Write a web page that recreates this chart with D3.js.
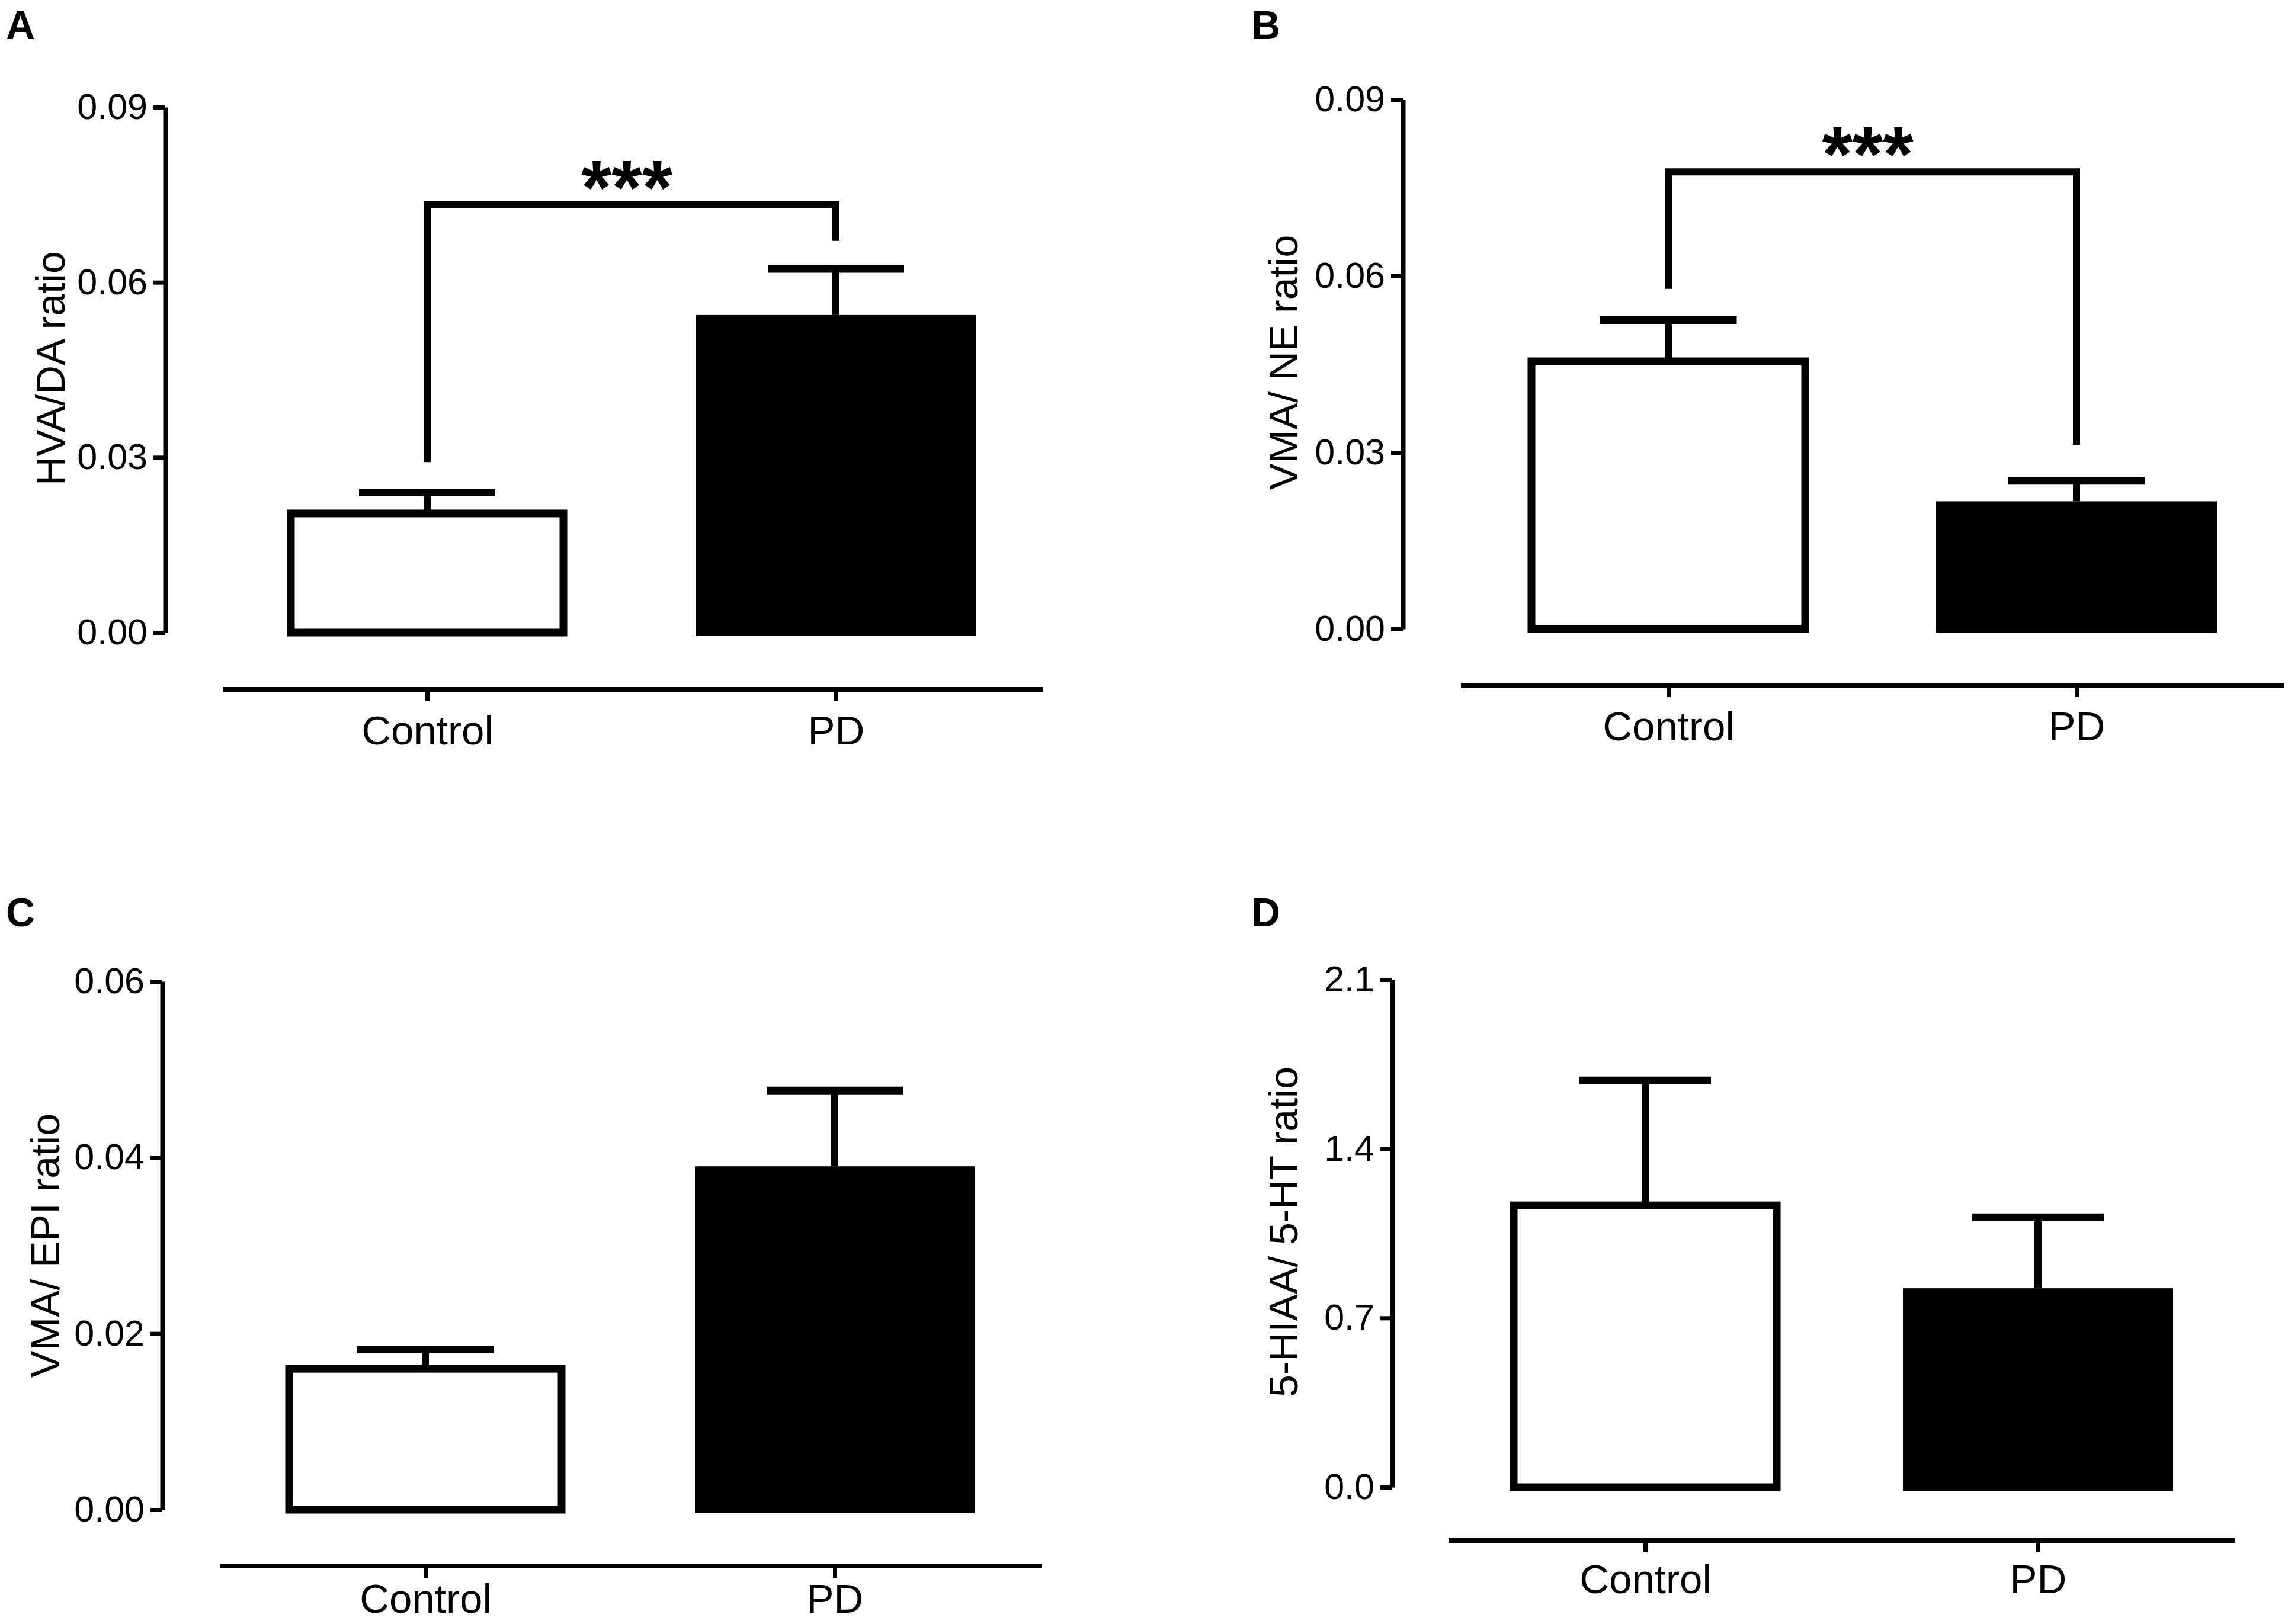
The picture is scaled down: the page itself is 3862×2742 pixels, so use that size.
<!DOCTYPE html>
<html>
<head>
<meta charset="utf-8">
<script src="https://cdn.jsdelivr.net/npm/d3@7"></script>
<style>
  body { margin: 0; background: #fff; }
  text { font-family: "Liberation Sans", Arial, Helvetica, sans-serif; fill: #000; }
</style>
</head>
<body>
<div id="figure"></div>
<script>
// Data (mean and SEM per group)
const groups = ["Control", "PD"];

const hvaDaMean = [0.0204, 0.0544];
const hvaDaSem  = [0.0036, 0.0079];
const hvaDaTicks = [0, 0.03, 0.06, 0.09];
const hvaDaSig = { label: "***", top: 0.0733, left: 0.0292, right: 0.0671 };

const vmaNeMean = [0.0455, 0.0217];
const vmaNeSem  = [0.0070, 0.0035];
const vmaNeTicks = [0, 0.03, 0.06, 0.09];
const vmaNeSig = { label: "***", top: 0.0777, left: 0.0578, right: 0.0313 };

const vmaEpiMean = [0.0160, 0.0390];
const vmaEpiSem  = [0.0022, 0.0086];
const vmaEpiTicks = [0, 0.02, 0.04, 0.06];

const hiaaHtMean = [1.166, 0.823];
const hiaaHtSem  = [0.517, 0.294];
const hiaaHtTicks = [0, 0.7, 1.4, 2.1];

const W = 3862, H = 2742;

const svg = d3.select("#figure")
  .append("svg")
  .attr("width", W)
  .attr("height", H);

// one panel = y axis, separate x axis line, two bars with SEM, optional bracket
function drawPanel(p) {
  const g = svg.append("g");

  const y = d3.scaleLinear()
    .domain([0, p.ticks[p.ticks.length - 1]])
    .range([p.yBottom, p.yTop]);

  const x = d3.scalePoint()
    .domain(groups)
    .range(p.centers);

  // y axis
  g.append("g")
    .attr("transform", `translate(${p.yAxisX},0)`)
    .call(d3.axisLeft(y).tickValues(p.ticks).tickFormat(d3.format(p.fmt))
      .tickSize(20).tickSizeOuter(0).tickPadding(10))
    .call(a => a.select(".domain").attr("stroke-width", 8))
    .call(a => a.selectAll(".tick line").attr("stroke-width", 7))
    .call(a => a.selectAll("text").style("font-size", "61px")
      .style("font-family", "'Liberation Sans', Arial, sans-serif"));

  // x axis: free-floating line below the plot
  g.append("line")
    .attr("x1", p.xLine[0]).attr("x2", p.xLine[1])
    .attr("y1", p.xAxisY).attr("y2", p.xAxisY)
    .attr("stroke", "#000").attr("stroke-width", 8);

  g.append("g")
    .attr("transform", `translate(0,${p.xAxisY})`)
    .call(d3.axisBottom(x).tickSize(20).tickPadding(p.labelGap))
    .call(a => a.select(".domain").remove())
    .call(a => a.selectAll(".tick line").attr("stroke-width", 7))
    .call(a => a.selectAll("text").style("font-size", "69px")
      .style("font-family", "'Liberation Sans', Arial, sans-serif"));

  const bars = groups.map((k, i) => ({ group: k, mean: p.mean[i], sem: p.sem[i], filled: i === 1 }));
  const bw = p.barWidth;

  // error bars (upper only)
  bars.forEach(d => {
    const cx = x(d.group);
    g.append("line")
      .attr("x1", cx).attr("x2", cx)
      .attr("y1", y(d.mean)).attr("y2", y(d.mean + d.sem))
      .attr("stroke", "#000").attr("stroke-width", 12);
    g.append("line")
      .attr("x1", cx - bw / 4).attr("x2", cx + bw / 4)
      .attr("y1", y(d.mean + d.sem)).attr("y2", y(d.mean + d.sem))
      .attr("stroke", "#000").attr("stroke-width", 13);
  });

  // bars
  g.selectAll(".bar")
    .data(bars)
    .join("rect")
    .attr("class", "bar")
    .attr("x", d => x(d.group) - (d.filled ? bw / 2 + 6 : bw / 2))
    .attr("y", d => y(d.mean))
    .attr("width", d => d.filled ? bw + 12 : bw)
    .attr("height", d => y(0) - y(d.mean) + (d.filled ? 6 : 0))
    .attr("fill", d => d.filled ? "#000" : "#fff")
    .attr("stroke", d => d.filled ? "none" : "#000")
    .attr("stroke-width", 13);

  // significance bracket
  if (p.sig) {
    const xl = x(groups[0]), xr = x(groups[1]);
    g.append("path")
      .attr("d", `M${xl},${y(p.sig.left)}V${y(p.sig.top)}H${xr}V${y(p.sig.right)}`)
      .attr("fill", "none")
      .attr("stroke", "#000")
      .attr("stroke-width", 12);
    g.append("text")
      .attr("x", (xl + xr) / 2 - 8)
      .attr("y", y(p.sig.top) + 16)
      .attr("text-anchor", "middle")
      .style("font-size", "132px")
      .style("font-weight", "bold")
      .text(p.sig.label);
  }

  // y axis title
  g.append("text")
    .attr("transform", `translate(${p.yLabel[0]},${p.yLabel[1]}) rotate(-90)`)
    .attr("text-anchor", "middle")
    .attr("dy", "0.35em")
    .style("font-size", "68px")
    .text(p.title);

  // panel letter
  g.append("text")
    .attr("x", p.letterPos[0])
    .attr("y", p.letterPos[1])
    .style("font-size", "68px")
    .style("font-weight", "bold")
    .text(p.letter);
}

drawPanel({
  letter: "A", letterPos: [10, 66], title: "HVA/DA ratio", yLabel: [85, 622],
  mean: hvaDaMean, sem: hvaDaSem, ticks: hvaDaTicks, fmt: ".2f", sig: hvaDaSig,
  yAxisX: 279, yTop: 181, yBottom: 1068,
  xAxisY: 1164, xLine: [376, 1760], centers: [721, 1411], barWidth: 460, labelGap: 24
});

drawPanel({
  letter: "B", letterPos: [2112, 66], title: "VMA/ NE ratio", yLabel: [2166, 612],
  mean: vmaNeMean, sem: vmaNeSem, ticks: vmaNeTicks, fmt: ".2f", sig: vmaNeSig,
  yAxisX: 2368, yTop: 168, yBottom: 1062,
  xAxisY: 1157, xLine: [2466, 3856], centers: [2816, 3505], barWidth: 462, labelGap: 24
});

drawPanel({
  letter: "C", letterPos: [10, 1564], title: "VMA/ EPI ratio", yLabel: [76, 2103],
  mean: vmaEpiMean, sem: vmaEpiSem, ticks: vmaEpiTicks, fmt: ".2f",
  yAxisX: 274, yTop: 1657, yBottom: 2549,
  xAxisY: 2644, xLine: [371, 1758], centers: [718, 1409], barWidth: 460, labelGap: 10
});

drawPanel({
  letter: "D", letterPos: [2112, 1564], title: "5-HIAA/ 5-HT ratio", yLabel: [2166, 2080],
  mean: hiaaHtMean, sem: hiaaHtSem, ticks: hiaaHtTicks, fmt: ".1f",
  yAxisX: 2350, yTop: 1654, yBottom: 2511,
  xAxisY: 2601, xLine: [2445, 3773], centers: [2777, 3440], barWidth: 444, labelGap: 20
});
</script>
</body>
</html>
